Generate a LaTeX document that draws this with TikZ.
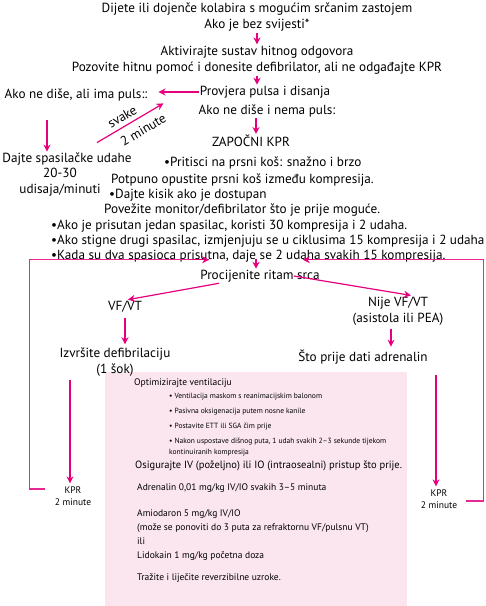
\documentclass[tikz,border=0pt]{standalone}
\usepackage{fontspec}
\setmainfont{PT Sans}
\usetikzlibrary{arrows.meta}
\definecolor{kpr}{HTML}{E6007E}
\definecolor{boxpink}{HTML}{FBE6EF}
\tikzset{
  txt/.style={font=\fontsize{13.2}{16.5}\selectfont, inner sep=1pt, align=center},
  small/.style={font=\fontsize{9.5}{12}\selectfont, inner sep=1pt, anchor=west, align=left},
  tiny/.style={font=\fontsize{7.5}{11}\selectfont, inner sep=1pt, anchor=west, align=left},
  arr/.style={-{Stealth[length=7pt,width=7pt]}, draw=kpr, line width=1.2pt},
  backline/.style={draw=kpr!85, line width=1.5pt}
}
\begin{document}
\begin{tikzpicture}[x=1pt,y=-1pt]
\useasboundingbox (0,0) rectangle (486,606);
        %box
        \fill[boxpink](105,372) rectangle (407,606);
        %label
        \node (top) at (257,17)[txt]{Dijete ili dojenče kolabira s mogućim srčanim zastojem\\Ako je bez svijesti*};
        \node (hitna) at (257,60)[txt]{Aktivirajte sustav hitnog odgovora\\Pozovite hitnu pomoć i donesite defibrilator, ali ne odgađajte KPR};
        \node (provjera) at (265,92)[txt]{Provjera pulsa i disanja};
        \node (imapuls) at (76,95)[txt]{Ako ne diše, ali ima puls::};
        \node (nemapuls) at (267,111)[txt]{Ako ne diše i nema puls:};
        \node (zapocni) at (251,141)[txt]{ZAPOČNI KPR};
        \node (udahe) at (67,159)[txt]{Dajte spasilačke udahe};
        \node (udisaji) at (60,182)[txt]{20-30\\udisaja/minuti};
        \node (b1) at (163,163)[txt,anchor=west]{•Pritisci na prsni koš: snažno i brzo};
        \node (b2) at (110,180)[txt,anchor=west]{Potpuno opustite prsni koš između kompresija.};
        \node (b3) at (108,195)[txt,anchor=west]{•Dajte kisik ako je dostupan};
        \node (b4) at (103,210)[txt,anchor=west]{Povežite monitor/defibrilator što je prije moguće.};
        \node (b5) at (50,226)[txt,anchor=west]{•Ako je prisutan jedan spasilac, koristi 30 kompresija i 2 udaha.};
        \node (b6) at (50,241)[txt,anchor=west]{•Ako stigne drugi spasilac, izmjenjuju se u ciklusima 15 kompresija i 2 udaha};
        \node (b7) at (50,256)[txt,anchor=west]{•Kada su dva spasioca prisutna, daje se 2 udaha svakih 15 kompresija.};
        \node (ritam) at (260,276)[txt]{Procijenite ritam srca};
        \node (vfvt) at (125,307)[txt]{VF/VT};
        \node (nijevf) at (398,311)[txt]{Nije VF/VT\\(asistola ili PEA)};
        \node (defib) at (115,362)[txt]{Izvršite defibrilaciju\\(1 šok)};
        \node (adren) at (363,357)[txt]{Što prije dati adrenalin};
        \node (kprL) at (73,496)[small,anchor=center,align=center]{KPR\\2 minute};
        \node (kprR) at (439,499)[small,anchor=center,align=center]{KPR\\2 minute};
        %box text
        \node (opt) at (133,383)[small]{Optimizirajte ventilaciju};
        \node (v1) at (168,397)[tiny]{• Ventilacija maskom s reanimacijskim balonom};
        \node (v2) at (168,412)[tiny]{• Pasivna oksigenacija putem nosne kanile};
        \node (v3) at (168,427)[tiny]{• Postavite ETT ili SGA čim prije};
        \node (v4) at (168,447)[tiny]{• Nakon uspostave dišnog puta, 1 udah svakih 2–3 sekunde tijekom\\kontinuiranih kompresija};
        \node (iv) at (134,466)[small,font=\fontsize{10.5}{12}\selectfont]{Osigurajte IV (poželjno) ili IO (intraosealni) pristup što prije.};
        \node (adr) at (136,488)[small]{Adrenalin 0,01 mg/kg IV/IO svakih 3–5 minuta};
        \node (amio) at (136,535)[small,font=\fontsize{9.5}{14}\selectfont]{Amiodaron 5 mg/kg IV/IO\\(može se ponoviti do 3 puta za refraktornu VF/pulsnu VT)\\ ili\\Lidokain 1 mg/kg početna doza};
        \node (uzroci) at (136,578)[small]{Tražite i liječite reverzibilne uzroke.};
        %arrows
        \draw[arr](top.south)--(hitna.north);
        \draw[arr](hitna.south)--(hitna.south |- provjera.north);
        \draw[arr,shorten >=10pt](provjera.west)--(provjera.west -| imapuls.east);
        \draw[arr]([xshift=5pt]zapocni.north |- nemapuls.south)--([xshift=5pt]zapocni.north);
        \draw[arr,shorten <=18pt]([xshift=-20pt]udahe.north |- imapuls.south)--([xshift=-20pt]udahe.north);
        \draw[arr]([xshift=30pt,yshift=9pt]udahe.north)--([xshift=15pt,yshift=-1pt]imapuls.south east)
             node[pos=0.45,above=3pt,sloped,txt]{svake} node[pos=0.6,below=6pt,sloped,txt]{2 minute};
        \draw[arr]([xshift=-4pt]ritam.north |- b7.base)--([xshift=-4pt]ritam.north);
        \draw[arr,shorten >=3pt]([xshift=20pt]ritam.south west)--(vfvt.north);
        \draw[arr]([xshift=-27pt]ritam.east)--([xshift=13pt]nijevf.north);
        \draw[arr,shorten <=4pt,shorten >=2pt](vfvt.south)--(vfvt.south |- defib.north);
        \draw[arr,shorten <=2pt,shorten >=2pt]([xshift=-7pt]nijevf.south)--([xshift=-7pt]nijevf.south |- adren.north);
        \draw[arr,shorten <=2pt,shorten >=2pt]([xshift=-3pt]kprL.north |- defib.south)--([xshift=-3pt]kprL.north);
        \draw[arr,shorten <=10pt,shorten >=2pt]([xshift=-3pt]kprR.north |- adren.south)--([xshift=-3pt]kprR.north);
        %loops
        \draw[backline]([xshift=-9pt,yshift=7pt]kprL.west) -- ++(-15,0) |- ([xshift=10pt,yshift=9pt]ritam.north west);
        \draw[arr]([xshift=-10pt,yshift=9pt]ritam.north west)--([xshift=10pt,yshift=9pt]ritam.north west);
        \draw[backline]([xshift=8pt,yshift=-2pt]kprR.east) -- ++(17,0) |- ([xshift=-18pt,yshift=9pt]ritam.north east);
        \draw[arr]([xshift=-8pt,yshift=9pt]ritam.north east)--([xshift=-18pt,yshift=9pt]ritam.north east);
\end{tikzpicture}
\end{document}
